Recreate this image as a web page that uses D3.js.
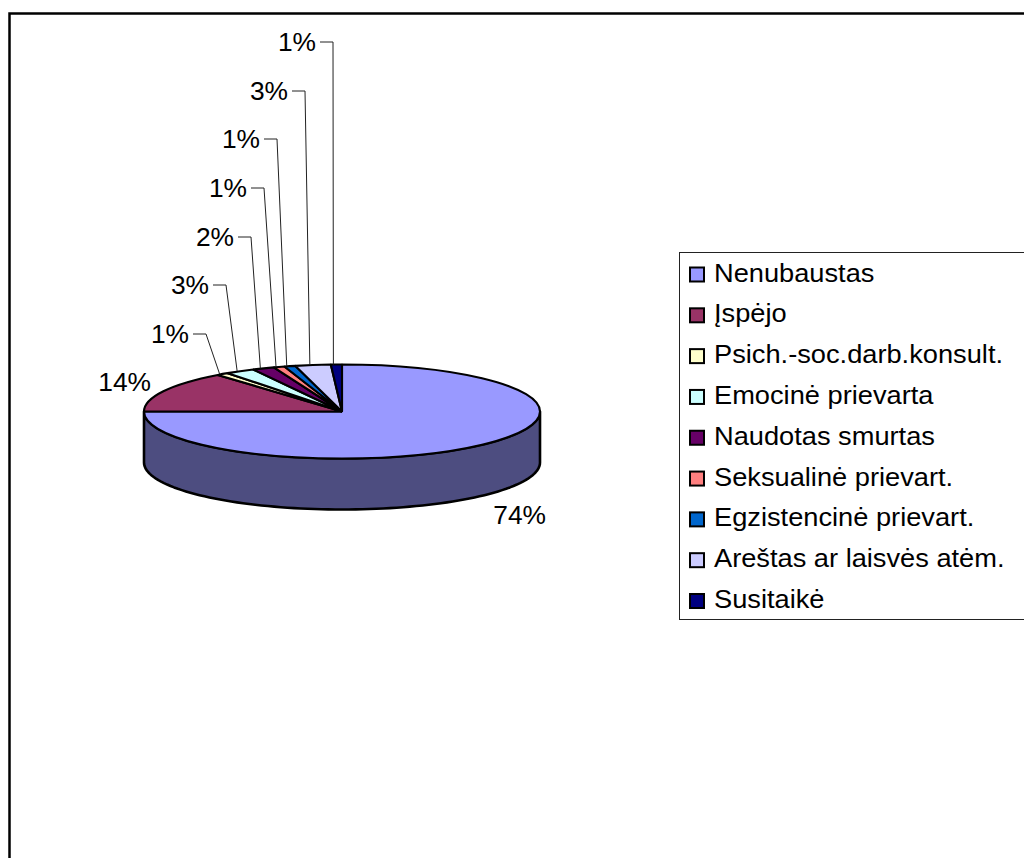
<!DOCTYPE html>
<html><head><meta charset="utf-8">
<style>html,body{margin:0;padding:0;background:#fff;overflow:hidden}svg{display:block}
text{font-family:"Liberation Sans",Arial,sans-serif;fill:#000}</style>
<script src="https://cdn.jsdelivr.net/npm/d3@7"></script></head><body>
<script>
const categories = ["Nenubaustas","Įspėjo","Psich.-soc.darb.konsult.","Emocinė prievarta","Naudotas smurtas","Seksualinė prievart.","Egzistencinė prievart.","Areštas ar laisvės atėm.","Susitaikė"];
const values = [75,14.2,1.0,2.4,1.8,0.9,0.9,2.9,0.9];
const percentLabels = ["74%","14%","1%","3%","2%","1%","1%","3%","1%"];
const colors = ["#9999FF","#993366","#FFFFCC","#CCFFFF","#660066","#FF8080","#0066CC","#CCCCFF","#000080"];

const W=1024,H=858,cx=342,cy=411.5,rx=198,ry=47,depth=51;
const svg=d3.select("body").append("svg").attr("width",W).attr("height",H);
svg.append("rect").attr("x",9.5).attr("y",13.5).attr("width",W+20).attr("height",H+20)
  .attr("fill","#fff").attr("stroke","#000").attr("stroke-width",2.5);

const arcs=d3.pie().sort(null).value(d=>d)(values);
const pt=(a,dy=0)=>[cx+rx*Math.sin(a),cy-ry*Math.cos(a)+dy];
const line=d3.line();

// side wall: the front half of the rim, which belongs to the first slice
const front=d3.range(Math.PI/2,Math.PI*1.5+0.001,Math.PI/90);
const wall=front.map(a=>pt(a)).concat(front.slice().reverse().map(a=>pt(a,depth)));
svg.append("path").attr("d",line(wall)+"Z").attr("fill","#4D4D80")
  .attr("stroke","#000").attr("stroke-width",2.6).attr("stroke-linejoin","round");

// top face
const arc=d3.arc().innerRadius(0).outerRadius(rx);
svg.append("g").attr("transform",`translate(${cx},${cy}) scale(1,${ry/rx})`)
  .selectAll("path").data(arcs).join("path").attr("d",arc)
  .attr("fill",(d,i)=>colors[i]).attr("stroke","#000").attr("stroke-width",2.1)
  .attr("stroke-linejoin","bevel").attr("vector-effect","non-scaling-stroke");

function label(x,y,t,anchor,sx){
  svg.append("text").attr("transform",`translate(${x},${y}) scale(${sx},1)`)
    .attr("font-size",25).attr("text-anchor",anchor||"start").text(t);
}
const pctStretch=1.055, legendStretch=1.09;
// outside labels
label(546,524,percentLabels[0],"end",pctStretch);
label(151,391,percentLabels[1],"end",pctStretch);

// leader-line labels, stacked upwards in slice order
const leaderRows=[334,285,237,188,139,91,42];
const leaderXs=[193,213,238,251,264,292,320];
const leaderElbow=13, leaderShift=-3;
arcs.slice(2).forEach((d,i)=>{
  const y=leaderRows[i],x=leaderXs[i];
  const mid=(d.startAngle+d.endAngle)/2, e=pt(mid);
  svg.append("path").attr("d",line([[x,y],[x+leaderElbow,y],[e[0]+leaderShift,e[1]]]))
    .attr("fill","none").attr("stroke","#222").attr("stroke-width",1);
  label(x-4,y+9,percentLabels[i+2],"end",pctStretch);
});

// legend
svg.append("rect").attr("x",679.5).attr("y",252.5).attr("width",W).attr("height",367)
  .attr("fill","#fff").attr("stroke","#222").attr("stroke-width",1);
const rowY=d3.scalePoint().domain(categories).range([274.5,601]);
categories.forEach((c,i)=>{
  const y=rowY(c);
  svg.append("rect").attr("x",690).attr("y",y-7).attr("width",14).attr("height",14)
    .attr("fill",colors[i]).attr("stroke","#000").attr("stroke-width",2);
  label(714,y+7,c,"start",legendStretch);
});
</script></body></html>
